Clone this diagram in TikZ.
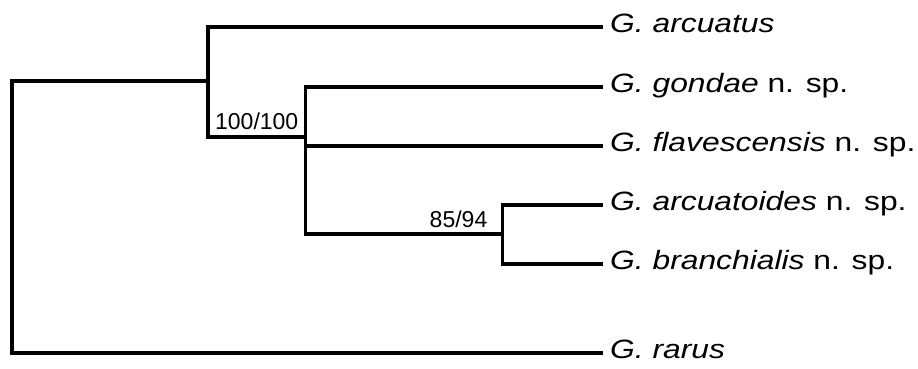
\documentclass[tikz,border=0pt]{standalone}
\usepackage{fontspec}
\setmainfont{Liberation Sans}
\newfontfamily\taxfont[FakeStretch=1.2]{Liberation Sans}
\usetikzlibrary{positioning}
\tikzstyle{branch} = [line width=3.6pt, black]
\tikzstyle{taxon} = [inner sep=0pt, anchor=base west, font=\taxfont\fontsize{26.5}{31}\selectfont]
\tikzstyle{support} = [inner sep=0pt, anchor=base east, font=\fontsize{23}{27}\selectfont]

\begin{document}
\begin{tikzpicture}[x=1pt, y=-1pt]
    \useasboundingbox (0,0) rectangle (918,368);
    % inner nodes of the tree
    \coordinate (root) at (12,81);
    \coordinate (nA) at (208,81);
    \coordinate (nB) at (305.5,137);
    \coordinate (nC) at (502.5,234);
    % tips
    \coordinate (t1) at (603,27);
    \coordinate (t2) at (603,87);
    \coordinate (t3) at (603,146);
    \coordinate (t4) at (603,205);
    \coordinate (t5) at (603,264);
    \coordinate (t6) at (603,353);
    \draw [branch] (nA) -- (root) |- (t6);
    \draw [branch] (t1) -| (nA);
    \draw [branch] (nA) |- (nB);
    \draw [branch] (t2) -| (nB);
    \draw [branch] (nB) |- (t3);
    \draw [branch] (nB) |- (nC);
    \draw [branch] (t4) -| (nC) |- (t5);
    \node (arcuatus) [taxon] at ([xshift=7pt,yshift=-5.5pt]t1) {\textit{G. arcuatus}};
    \node (gondae) [taxon] at ([xshift=7pt,yshift=-5.5pt]t2) {\textit{G. gondae} n. sp.};
    \node (flavescensis) [taxon] at ([xshift=7pt,yshift=-5.5pt]t3) {\textit{G. flavescensis} n. sp.};
    \node (arcuatoides) [taxon] at ([xshift=7pt,yshift=-5.5pt]t4) {\textit{G. arcuatoides} n. sp.};
    \node (branchialis) [taxon] at ([xshift=7pt,yshift=-5.5pt]t5) {\textit{G. branchialis} n. sp.};
    \node (rarus) [taxon] at ([xshift=7pt,yshift=-5.5pt]t6) {\textit{G. rarus}};
    \node (bsA) [support] at ([xshift=-7pt,yshift=7.5pt]nB) {100/100};
    \node (bsC) [support] at ([xshift=-15pt,yshift=6.7pt]nC) {85/94};
\end{tikzpicture}
\end{document}
